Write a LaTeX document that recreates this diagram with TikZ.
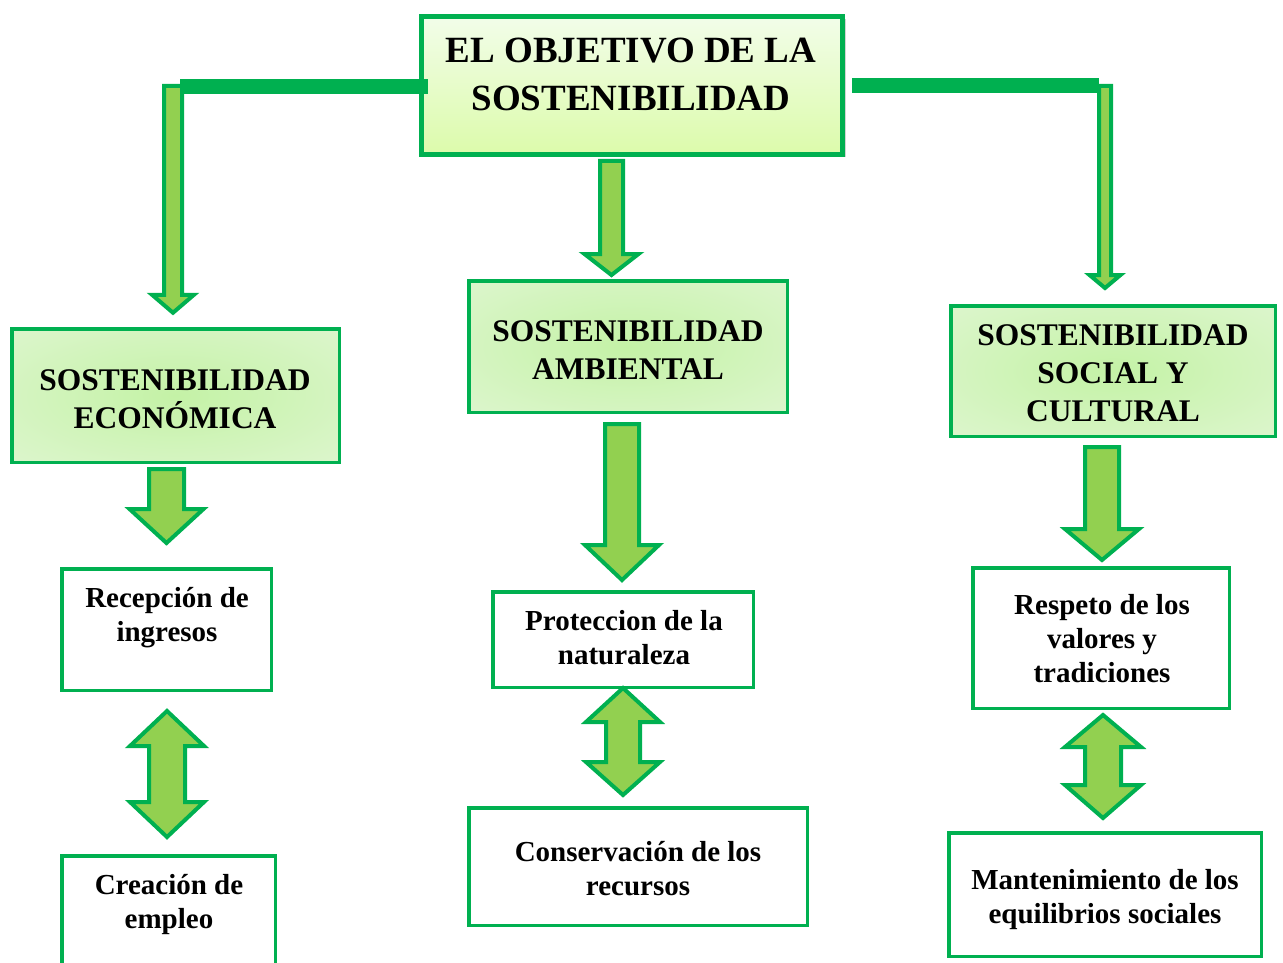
\documentclass[tikz,border=0pt]{standalone}
\usepackage{fontspec}
\setmainfont{Liberation Serif}
\usetikzlibrary{calc,shadows}
\definecolor{ogreen}{HTML}{00B050}
\definecolor{agreen}{HTML}{92D050}
\definecolor{titletop}{HTML}{F2FDE9}
\definecolor{titlebot}{HTML}{DCFBAB}
\definecolor{sostin}{HTML}{C4F2A6}
\definecolor{sostout}{HTML}{E6F7DC}
\definecolor{sostcorner}{HTML}{F3FBEF}
\pgfdeclareradialshading{sostrad}{\pgfpointorigin}{color(0bp)=(sostin); color(50bp)=(sostout); color(72bp)=(sostcorner)}
\tikzset{
  box/.style={draw=ogreen, line width=3.5pt, inner sep=0pt, outer sep=0pt, fill=white},
  sostbox/.style={box, shading=sostrad},
  titlebox/.style={box, line width=5pt, top color=titletop, bottom color=titlebot,
    drop shadow={shadow xshift=3pt, shadow yshift=-3pt, opacity=.35}},
  blockarrow/.style={draw=ogreen, fill=agreen, line width=4pt, line join=miter},
  bar/.style={draw=ogreen, line width=15pt},
  titletext/.style={font=\fontsize{37}{48}\selectfont\bfseries, align=center, anchor=base, inner sep=0pt},
  sosttext/.style={font=\fontsize{31.5}{38}\selectfont\bfseries, align=center, anchor=base, inner sep=0pt},
  smalltext/.style={font=\fontsize{29}{34}\selectfont\bfseries, align=center, anchor=base, inner sep=0pt},
}
% single block arrow pointing down: #1 start, #2 tip, #3 shaft half width, #4 head half width, #5 head length
\newcommand\blockdown[5]{%
  \draw[blockarrow] let \p1=(#1), \p2=(#2) in
    (\x1-#3pt,\y1) -- (\x1+#3pt,\y1) -- (\x1+#3pt,\y2+#5pt) -- (\x1+#4pt,\y2+#5pt)
    -- (\x1,\y2) -- (\x1-#4pt,\y2+#5pt) -- (\x1-#3pt,\y2+#5pt) -- cycle;}
% double block arrow: #1 top tip, #2 bottom tip, #3 shaft half, #4 head half, #5 upper head length, #6 lower head length
\newcommand\blockboth[6]{%
  \draw[blockarrow] let \p1=(#1), \p2=(#2) in
    (\x1,\y1) -- (\x1+#4pt,\y1-#5pt) -- (\x1+#3pt,\y1-#5pt) -- (\x1+#3pt,\y2+#6pt)
    -- (\x1+#4pt,\y2+#6pt) -- (\x1,\y2) -- (\x1-#4pt,\y2+#6pt) -- (\x1-#3pt,\y2+#6pt)
    -- (\x1-#3pt,\y1-#5pt) -- (\x1-#4pt,\y1-#5pt) -- cycle;}
\begin{document}
\begin{tikzpicture}[x=1pt,y=-1pt]
\useasboundingbox (0,0) rectangle (1283,963);
\clip (0,0) rectangle (1283,963);

% boxes (nodes)
\node[titlebox, minimum width=421pt, minimum height=138pt] (top) at (632,85.5) {};
\node[sostbox, minimum width=327.5pt, minimum height=133.5pt] (econ) at (175.5,395.5) {};
\node[sostbox, minimum width=318.5pt, minimum height=131.5pt] (amb) at (628,346.5) {};
\node[sostbox, minimum width=324.5pt, minimum height=130.5pt] (soc) at (1113,371) {};
\node[box, minimum width=209.5pt, minimum height=121.5pt] (rec) at (166.5,629.5) {};
\node[box, minimum width=213.5pt, minimum height=117.5pt] (cre) at (168.5,914.5) {};
\node[box, minimum width=260.5pt, minimum height=95.5pt] (prot) at (623,639.5) {};
\node[box, minimum width=338.5pt, minimum height=117.5pt] (cons) at (638,866.5) {};
\node[box, minimum width=256.5pt, minimum height=140.5pt] (resp) at (1101,638) {};
\node[box, minimum width=312.5pt, minimum height=123.5pt] (mant) at (1105,894.5) {};

% corner coordinates of the bent connectors
\coordinate (lcorner) at (173,86);
\coordinate (rcorner) at (1105,86);

% connectors
\draw[bar] ($(top.west)+(6,1.5)$) -- ($(lcorner)+(7,1)$);
\draw[bar] ($(top.east)+(9.5,0.5)$) -- ($(rcorner)+(-6,0)$);
\blockdown{lcorner}{$(econ.north)+(0,-16)$}{9}{21}{18}
\blockdown{rcorner}{$(soc.north)+(0,-17.75)$}{6}{15.5}{13}
\blockdown{$(top.south)+(-20.5,6.5)$}{$(amb.north)+(0,-5.75)$}{11.5}{27}{21}
\blockdown{$(econ.south)+(-9,6.75)$}{$(rec.north)+(0,-25.75)$}{17.5}{37}{34}
\blockdown{$(amb.south)+(-6,11.75)$}{$(prot.north)+(0,-11.75)$}{17}{37}{35}
\blockdown{$(soc.south)+(-11,10.75)$}{$(resp.north)+(0,-7.75)$}{17}{37}{31}
\blockboth{$(rec.south)+(0.5,20.75)$}{$(cre.north)+(0,-18.75)$}{18}{37}{35}{35}
\blockboth{$(prot.south)+(0,0.75)$}{$(cons.north)+(0,-12.75)$}{17}{37}{34}{33}
\blockboth{$(resp.south)+(2,6.75)$}{$(mant.north)+(0,-14.75)$}{18}{38}{32}{33}

% texts (anchor = baseline of the last line)
\node[titletext] (ttop) at (631,111) {EL OBJETIVO DE LA\\SOSTENIBILIDAD};
\node[sosttext] (tecon) at (175,428) {SOSTENIBILIDAD\\ECONÓMICA};
\node[sosttext] (tamb) at (628,379) {SOSTENIBILIDAD\\AMBIENTAL};
\node[sosttext] (tsoc) at (1113,421) {SOSTENIBILIDAD\\SOCIAL Y\\CULTURAL};
\node[smalltext] (trec) at (167,641) {Recepción de\\ingresos};
\node[smalltext] (tcre) at (169,928) {Creación de\\empleo};
\node[smalltext] (tprot) at (624,664) {Proteccion de la\\naturaleza};
\node[smalltext] (tcons) at (638,895) {Conservación de los\\recursos};
\node[smalltext] (tresp) at (1102,682) {Respeto de los\\valores y\\tradiciones};
\node[smalltext] (tmant) at (1105,923) {Mantenimiento de los\\equilibrios sociales};
\end{tikzpicture}
\end{document}
